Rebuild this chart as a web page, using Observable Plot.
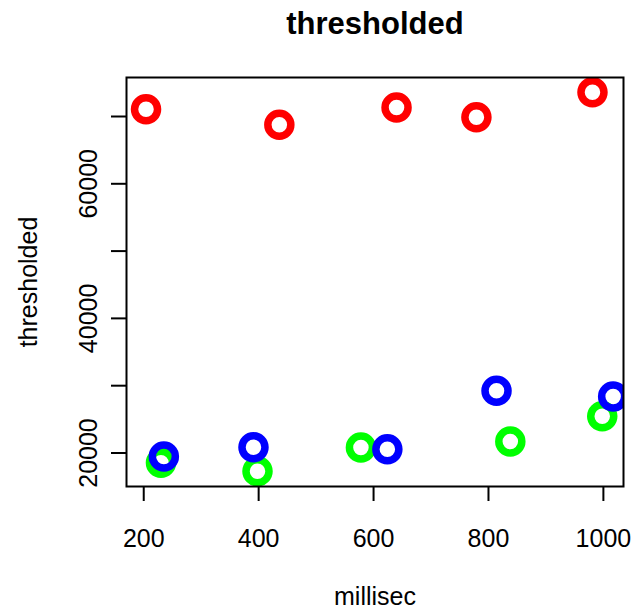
<!DOCTYPE html>
<html>
<head>
<meta charset="utf-8">
<script src="https://cdn.jsdelivr.net/npm/d3@7"></script>
<script src="https://cdn.jsdelivr.net/npm/@observablehq/plot@0.6"></script>
<style>
  html, body { margin: 0; padding: 0; background: #fff; }
  svg { display: block; }
</style>
</head>
<body>
<div id="chart"></div>
<script>
// Data
const titleText = "thresholded";
const xLabel = "millisec";
const yLabel = "thresholded";

const redX = [204, 436, 640, 779, 981];
const redY = [71090, 68770, 71340, 69900, 73610];
const greenX = [230, 398, 578, 838, 998];
const greenY = [18540, 17290, 20810, 21710, 25470];
const blueX = [235, 391, 624, 814, 1017];
const blueY = [19480, 20860, 20560, 29240, 28390];

const xTicks = [200, 400, 600, 800, 1000];
const yTicks = [20000, 30000, 40000, 50000, 60000, 70000];
const yTickLabels = [20000, 40000, 60000];

const seriesColors = ["#FF0000", "#00FF00", "#0000FF"];

const toRows = (xs, ys) => xs.map((x, i) => ({x, y: ys[i]}));
const red = toRows(redX, redY);
const green = toRows(greenX, greenY);
const blue = toRows(blueX, blueY);

const font = "'Liberation Sans', Arial, Helvetica, sans-serif";

const dotOpts = (color) => ({x: "x", y: "y", r: 11.5, stroke: color, strokeWidth: 7.5, fill: "none", clip: true});

const chart = Plot.plot({
  width: 644,
  height: 608,
  marginTop: 77,
  marginRight: 21,
  marginBottom: 122,
  marginLeft: 126,
  style: {fontFamily: font, color: "black", background: "white"},
  x: {domain: [170, 1035], label: null, nice: false},
  y: {domain: [15019, 75795], label: null, nice: false, zero: false},
  marks: [
    Plot.dot(red, dotOpts(seriesColors[0])),
    Plot.dot(green, dotOpts(seriesColors[1])),
    Plot.dot(blue, dotOpts(seriesColors[2])),
    Plot.axisX({ticks: xTicks, tickSize: 15, tickPadding: 28, tickFormat: d => String(d), fontSize: 25, fontFamily: font, label: null, stroke: "black", strokeWidth: 2, fill: "black"}),
    Plot.axisY({ticks: yTicks, tickSize: 15, tickFormat: () => "", label: null, stroke: "black", strokeWidth: 2}),
    Plot.text(yTickLabels, {y: d => d, text: d => String(d), frameAnchor: "left", rotate: -90, lineAnchor: "bottom", textAnchor: "middle", dx: -29.5, fontSize: 25, fontFamily: font, fill: "black"}),
    Plot.text([xLabel], {text: d => d, frameAnchor: "bottom", lineAnchor: "bottom", textAnchor: "middle", dy: 118, fontSize: 25, fontFamily: font, fill: "black"}),
    Plot.text([yLabel], {text: d => d, frameAnchor: "left", rotate: -90, lineAnchor: "bottom", textAnchor: "middle", dx: -89.5, fontSize: 25, fontFamily: font, fill: "black"}),
    Plot.text([titleText], {text: d => d, frameAnchor: "top", lineAnchor: "bottom", textAnchor: "middle", dy: -44, fontSize: 31, fontWeight: "bold", fontFamily: font, fill: "black"}),
    Plot.frame({stroke: "black", strokeWidth: 2})
  ]
});
document.getElementById("chart").appendChild(chart);
</script>
</body>
</html>
